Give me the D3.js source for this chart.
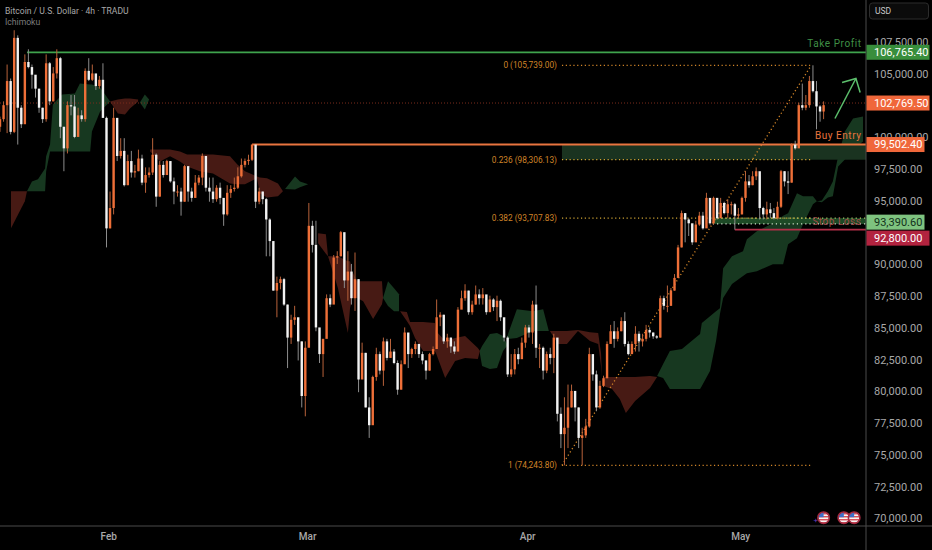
<!DOCTYPE html>
<html><head><meta charset="utf-8">
<script src="https://cdn.jsdelivr.net/npm/d3@7/dist/d3.min.js"></script>
<style>html,body{margin:0;background:#000;overflow:hidden}svg{display:block}text{font-family:Roboto,"Noto Sans",sans-serif}</style>
</head><body><svg id="c" width="932" height="550"></svg>
<script>
// Data: bars every 12h, prices in thousands of USD
const firstBar = "2025-01-16T18:00:00Z";
const closes = [101.5,102.6,104.5,100.5,107.9,102.4,101.1,106.0,105.6,105.0,103.9,102.4,101.5,105.9,102.9,105.1,106.3,100.9,99.2,102.6,102.5,100.1,101.8,101.5,105.3,104.6,105.1,104.1,104.6,101.6,92.9,94.5,101.6,98.6,99.0,96.3,98.2,97.3,97.4,98.4,96.5,97.1,97.3,98.7,95.4,97.9,97.1,98.2,96.6,95.8,95.8,95.0,97.8,95.8,95.3,96.5,96.9,98.6,96.1,95.8,95.2,96.1,95.3,94.0,95.7,96.0,96.1,97.0,97.9,98.2,98.3,99.5,
95.0,95.8,95.2,93.6,91.9,88.0,88.6,88.9,86.9,84.3,85.7,85.9,84.0,79.7,83.5,93.1,91.6,85.1,83.0,84.2,87.4,86.9,90.6,90.7,92.6,88.8,89.5,87.4,88.9,81.0,83.1,78.8,77.4,81.2,83.0,81.7,84.0,82.7,83.2,82.3,80.2,82.2,84.7,83.0,83.4,83.8,83.0,82.5,81.7,83.0,83.4,85.9,86.1,84.0,84.3,83.6,83.2,86.5,87.4,88.0,86.3,86.9,87.7,87.4,87.7,86.3,87.3,86.7,87.2,85.9,84.3,81.4,81.8,83.0,82.6,83.9,85.1,84.7,86.9,83.5,83.5,81.7,83.0,
82.7,84.3,78.3,76.7,77.2,78.8,80.1,78.8,76.4,76.6,77.3,83.0,81.4,78.8,80.5,81.1,83.8,84.8,84.2,84.8,85.6,83.8,83.0,83.8,84.6,84.0,84.2,84.9,84.7,84.4,84.3,87.4,86.8,86.8,88.0,89.0,91.4,94.1,93.6,93.3,91.8,93.2,93.9,92.9,95.3,93.3,95.3,93.7,94.9,94.1,94.8,94.8,93.9,94.0,95.3,
96.6,96.3,97.0,97.4,94.5,94.0,94.4,94.1,93.7,94.6,97.4,96.6,96.5,99.5,99.2,102.6,102.4,102.6,104.5,103.7,102.5,102.1,102.6];
const highs = [101.7,102.9,105.8,104.7,108.5,108.1,102.6,106.6,107.0,105.8,104.7,103.9,102.4,106.6,106.0,105.6,107.0,106.4,100.9,102.9,103.4,103.4,102.4,102.2,105.5,106.3,105.8,104.9,104.9,105.9,101.7,95.8,102.4,101.6,100.0,100.0,98.7,99.0,97.9,99.1,98.7,97.7,97.7,100.0,98.8,98.2,98.2,98.3,98.2,96.9,96.3,96.1,97.9,97.8,96.1,97.1,97.1,98.8,98.4,96.9,96.9,96.3,96.5,95.0,96.3,96.3,96.9,97.7,98.4,98.4,98.7,99.5,
99.2,96.1,95.8,95.3,93.7,91.9,89.1,89.1,89.0,86.9,86.1,86.8,84.8,84.0,84.0,94.9,93.5,93.5,84.3,84.2,87.7,87.7,90.8,91.1,92.7,91.4,91.1,90.1,91.0,88.9,83.9,83.1,79.6,81.3,83.5,83.2,84.3,84.2,84.2,83.4,82.5,82.5,85.1,84.0,83.5,84.0,83.8,83.2,82.5,83.1,83.6,87.3,86.3,86.1,84.6,84.3,84.0,86.7,88.0,88.5,88.0,87.2,88.4,88.1,88.2,87.4,87.6,87.4,87.6,87.3,85.6,84.4,83.0,83.4,83.5,84.3,85.3,85.3,87.2,88.4,83.8,83.6,83.2,
83.5,84.6,84.0,78.8,79.6,80.6,80.6,80.1,78.8,77.2,77.9,83.5,82.5,81.7,80.9,81.3,84.0,85.3,85.6,85.1,85.9,86.3,84.0,84.0,85.2,84.8,84.6,85.3,85.1,84.7,84.5,87.6,87.6,88.4,88.2,89.3,91.6,94.3,94.1,93.7,93.2,93.5,94.2,94.2,95.7,94.9,95.4,95.3,95.3,95.0,95.2,95.0,94.9,94.5,95.4,
97.4,97.1,97.4,97.7,97.0,94.6,95.0,94.9,94.5,95.0,97.5,97.4,97.4,99.6,99.8,102.8,104.3,103.4,104.9,105.74,104.5,102.6,102.9];
const lows = [100.5,101.3,100.4,100.3,100.4,99.5,100.8,102.4,105.5,103.9,103.2,102.0,101.2,101.3,102.6,102.9,104.7,100.0,97.4,98.8,101.8,100.0,100.1,101.3,101.3,104.5,104.5,103.8,103.9,101.6,91.4,92.9,94.0,98.2,98.4,96.2,96.3,96.9,96.9,97.4,96.3,95.7,96.9,97.1,94.6,95.4,96.9,97.1,96.5,94.8,95.4,93.9,95.0,95.0,95.0,95.3,96.3,96.3,95.8,95.0,94.9,95.0,94.8,93.1,93.9,95.3,95.8,96.0,96.9,97.7,97.9,98.2,
94.5,94.8,94.8,90.7,90.7,88.0,85.9,88.1,86.8,81.9,83.8,85.3,82.5,78.8,78.1,84.0,91.0,84.8,82.3,81.2,84.3,86.7,87.4,90.1,90.7,88.2,87.2,86.9,86.4,80.0,81.2,78.8,76.4,78.9,80.9,81.4,80.5,82.5,82.7,82.2,79.8,80.2,82.5,81.9,82.7,83.0,82.7,82.2,81.0,81.7,82.9,84.0,85.2,83.8,83.5,83.1,83.0,83.8,86.7,87.2,86.1,86.1,86.9,86.9,86.9,86.1,86.7,86.4,85.6,85.6,84.0,81.2,81.2,81.4,82.2,82.7,83.5,84.3,83.8,82.7,81.9,81.0,81.5,
82.2,81.5,77.7,75.6,74.24,75.6,78.8,77.7,75.6,74.24,76.4,77.2,80.9,78.5,78.7,80.4,81.1,84.0,83.5,84.0,84.8,83.6,82.9,83.0,83.2,83.2,83.6,84.0,84.3,84.2,84.2,84.3,86.5,86.3,86.8,88.0,89.0,91.4,91.8,92.3,91.6,92.4,93.1,92.8,93.2,93.2,93.2,93.6,94.0,94.0,93.7,94.0,92.8,93.7,94.0,
95.0,96.1,96.3,96.7,93.6,93.6,93.6,93.7,93.6,93.6,94.5,96.2,95.6,96.5,99.1,99.4,102.2,102.2,102.4,103.6,100.7,101.3,101.5];
// Ichimoku cloud: [bar, upper span, lower span]
const redCloud1 = [[3.1,95.82,92.91],[7,95.82,95.03],[7.6,95.82,95.82]];
const greenCloud1 = [[7.6,95.82,95.82],[9,96.6,95.82],[10.7,96.76,95.82],[12.7,97.62,95.82],[13,98.57,97.39],[14.1,99.51,98.96],[14.9,102.65,98.96],[17.5,103.44,98.96],[21.1,103.52,98.96],[22.5,104.3,98.96],[25.4,104.23,98.96],[25.9,104.23,100.53],[28.2,103.99,102.1],[31,102.89,102.89]];
const redCloud2 = [[31,102.89,102.89],[33.2,103.05,101.95],[35.2,103.13,101.87],[36.6,103.13,102.34],[38.9,103.05,102.89]];
const greenCloud2 = [[39.4,102.81,102.81],[40.8,103.44,102.26],[42,103.05,103.05]];
const redCloud3 = [[42.3,99.12,98.96],[45.1,99.12,98.17],[47.9,99.12,98.57],[50.7,98.96,98.17],[52.7,98.72,97.78],[56.3,98.72,97.39],[60,98.72,97.23],[64.8,98.57,96.44],[66.8,97.94,96.37],[69,97.39,96.37],[72.4,96.99,96.84],[73.2,96.91,95.66],[75.2,96.84,95.34],[78.3,96.44,95.42],[79.7,95.82,95.82]];
const greenCloud3 = [[80.3,96,96],[83.1,96.99,95.97],[84.5,96.6,96.13],[86.8,96.37,96.37]];
const redCloud4 = [[89.6,92.52,91.73],[91.8,92.44,90.9],[92.4,90.71,90.71],[95.2,90.71,88.19],[98,90.31,84.66],[98.6,90.31,86.62],[99.2,89.53,87.41],[100.6,88.74,87.41],[102.3,88.74,87.17],[105.1,88.74,85.76],[107.6,88.74,86.93],[107.9,87.41,87.41]];
const greenCloud4 = [[107.9,87.41,87.41],[109.3,88.74,86.78],[111,88.19,86.38],[112.4,87.72,86.38]];
const redCloud5 = [[112.7,86.38,86.38],[114.6,86.31,85.6],[115.5,85.52,85.21],[116.9,85.52,84.26],[119.2,85.52,83.24],[122.5,85.44,83.24],[122.8,84.81,83.08],[125.4,84.03,81.12],[128.2,84.26,82.45],[131,84.42,82.69],[134.6,83.48,82.61],[135.2,83.24,83.24]];
const greenCloud5 = [[135.2,83.3,83],[135.8,83.63,82.06],[138,84.58,81.82],[140,84.66,81.9],[141.7,84.42,83.24],[142.8,83.79,83.63]];
const greenCloud6 = [[142.8,84.34,84.18],[145.6,86.54,84.26],[150.1,86.38,84.81],[153,86.54,84.81],[154.6,84.81,84.81]];
const redCloud6 = [[154.9,84.81,84.81],[157.2,84.81,83.79],[159.7,84.81,83.79],[162.8,84.89,84.81],[166.2,84.73,84.03],[168.5,84.66,83.79],[169.3,83.08,82.06],[169.6,81.12,81.12]];
const redCloud7 = [[169.9,81.2,80.49],[172.4,81.2,80.25],[174.6,81.2,79.47],[176.3,81.2,78.37],[178.9,81.2,79.31],[183.1,81.28,80.33],[185.1,81.2,81.2]];
const greenCloud7 = [[185.1,81.27,81.27],[186.8,82.22,81.12],[188.7,83.24,80.25],[192.1,83.4,80.25],[197.2,84.58,80.25],[197.7,85.44,80.49],[200,85.99,81.67],[201.7,86.38,84.03],[202.8,86.62,86.15],[203.7,89.76,87.41],[206.2,90.71,88.51],[209.3,91.1,89.14],[210.4,92.04,89.37],[213.2,92.67,89.53],[217.7,93.3,90.08],[220.6,93.9,90.08],[222,94.09,91.65],[224.5,95.66,92.12],[226.2,95.42,93.22],[229,95.42,94.79],[230.1,95.03,95.03],[231.5,95.1,94.95],[233.2,95.82,95.34],[234.6,96.6,95.42],[236.1,98.57,97.78],[238,100.53,98.33],[240.3,101.55,99.12],[243.1,101.71,99.75]];
const redClouds = [redCloud1,redCloud2,redCloud3,redCloud4,redCloud5,redCloud6,redCloud7];
const greenClouds = [greenCloud1,greenCloud2,greenCloud3,greenCloud4,greenCloud5,greenCloud6,greenCloud7];
// Levels (the 92,500 and 102,500 ticks are fully hidden by price boxes in the reference)
const priceTicks = [70000,72500,75000,77500,80000,82500,85000,87500,90000,95000,97500,100000,105000,107500];
const monthTicks = ["2025-02-01","2025-03-01","2025-04-01","2025-05-01"];
const takeProfit = 106765.4, lastPrice = 102769.5, buyEntry = 99502.4, stopZone = 93390.6, stopLoss = 92800;
const fibPrices = [105739, 98306.13, 93707.83, 74243.8];
const fibRatios = ["0","0.236","0.382","1"];
const fibBars = [158.3, 228.5];
const tpStartBar = 7.6, entryStartBar = 71, slStartBar = 207, zone2StartBar = 200.8, zone2Low = 93250;
const arrowLine = [[235.2,101.55],[241.1,104.7]];
const arrowHead = [[237.2,104.38],[241.1,104.7],[242.3,103.6]];
const eventBars = [232, 237.7, 240.6], plusBar = 229.8;
const title = "Bitcoin / U.S. Dollar · 4h · TRADU", indicator = "Ichimoku", currency = "USD";

const W=932,H=550,PR=866,PB=526;
const t0 = new Date(firstBar).getTime(), barT = i=>new Date(t0+i*432e5);
const x = d3.scaleUtc().domain([barT(0), barT(866/3.55)]).range([0,866]);
const y = d3.scaleLinear().domain([70000,107500]).range([519.2,42.95]);
const X = i=>x(barT(i)), Y = k=>y(k*1000);
const svg = d3.select("#c");
svg.append("rect").attr("width",W).attr("height",H).attr("fill","#000");
svg.append("clipPath").attr("id","plot").append("rect").attr("width",PR).attr("height",PB);
const g = svg.append("g").attr("clip-path","url(#plot)");

// clouds
const area = d3.area().x(d=>X(d[0])).y0(d=>Y(d[2])).y1(d=>Y(d[1])).curve(d3.curveLinear);
g.selectAll("path.r").data(redClouds).join("path").attr("class","r").attr("d",area).attr("fill","#471a14");
g.selectAll("path.g").data(greenClouds).join("path").attr("class","g").attr("d",area).attr("fill","#173820");

// zones
g.append("rect").attr("x",X(fibBars[0])).attr("y",y(buyEntry)).attr("width",PR-X(fibBars[0])).attr("height",y(fibPrices[1])-y(buyEntry)).attr("fill","#1a3320");
g.append("rect").attr("x",X(zone2StartBar)).attr("y",y(fibPrices[2])).attr("width",PR-X(zone2StartBar)).attr("height",y(zone2Low)-y(fibPrices[2])).attr("fill","#1d4a26");

// last price dotted
g.append("line").attr("x1",0).attr("x2",PR).attr("y1",y(lastPrice)).attr("y2",y(lastPrice)).attr("stroke","#7a2c1c").attr("stroke-width",1).attr("stroke-dasharray","1 2");

// fib
fibPrices.forEach((p,i)=>{
  g.append("line").attr("x1",X(fibBars[0])).attr("x2",X(fibBars[1])).attr("y1",y(p)).attr("y2",y(p)).attr("stroke",i==1||i==2?"#d0a535":"#d08428").attr("stroke-width",1.3).attr("stroke-dasharray","1.2 2.6");
  g.append("text").attr("x",X(fibBars[0])-5).attr("y",y(p)).attr("dy","0.35em").attr("text-anchor","end").attr("font-size",8.3).attr("fill","#d08428")
   .text(`${fibRatios[i]} (${d3.format(",.2f")(p)})`);
});
g.append("line").attr("x1",X(fibBars[0])).attr("x2",X(fibBars[1])).attr("y1",y(fibPrices[3])).attr("y2",y(fibPrices[0])).attr("stroke","#d08428").attr("stroke-width",1.3).attr("stroke-dasharray","1.2 2.6");
g.append("line").attr("x1",X(zone2StartBar)).attr("x2",PR).attr("y1",y(zone2Low)).attr("y2",y(zone2Low)).attr("stroke","#d5e5d0").attr("stroke-width",1.2).attr("stroke-dasharray","1.2 3");
g.append("line").attr("x1",X(zone2StartBar)).attr("x2",PR).attr("y1",y(fibPrices[2])).attr("y2",y(fibPrices[2])).attr("stroke","#b5c76a").attr("stroke-width",1.1).attr("stroke-dasharray","1.2 3");

// level lines
[[tpStartBar,takeProfit,"#3fa34d"],[entryStartBar,buyEntry,"#e8743f"],[slStartBar,stopLoss,"#b32f48"]].forEach(([b,p,c])=>{
  g.append("line").attr("x1",X(b)).attr("x2",PR).attr("y1",y(p)).attr("y2",y(p)).attr("stroke",c).attr("stroke-width",1.8);
});

// candles
const bars = closes.map((c,i)=>({i,o:i?closes[i-1]:100.9,c,h:highs[i],l:lows[i]}));
const cg = g.append("g");
cg.selectAll("line").data(bars).join("line").attr("x1",d=>X(d.i)).attr("x2",d=>X(d.i)).attr("y1",d=>Y(d.h)).attr("y2",d=>Y(d.l))
  .attr("stroke",d=>d.c>=d.o?"#b8623a":"#8c8c8c").attr("stroke-width",1);
cg.selectAll("rect").data(bars).join("rect").attr("x",d=>X(d.i)-1.2).attr("width",2.4)
  .attr("y",d=>Y(Math.max(d.o,d.c))).attr("height",d=>Math.max(1,Math.abs(Y(d.o)-Y(d.c))))
  .attr("fill",d=>d.c>=d.o?"#ee6f38":"#f2f2f2");

// arrow
const ln = d3.line().x(d=>X(d[0])).y(d=>Y(d[1]));
[arrowLine,arrowHead].forEach(a=>g.append("path").attr("d",ln(a)).attr("fill","none").attr("stroke","#5cbf6c").attr("stroke-width",1.5));

// notes
[["Take Profit",takeProfit,-9,"#3f8f46"],["Buy Entry",buyEntry,-9,"#e8743f"],["Stop Loss",stopZone,-1,"#a04a48"]].forEach(([s,p,d,c])=>{
  g.append("text").attr("x",861.5).attr("y",y(p)+d).attr("dy","0.35em").attr("text-anchor","end").attr("font-size",10).attr("letter-spacing",.55).attr("fill",c).text(s);
});

// event flags
const fl = svg.append("g");
eventBars.forEach((b,i)=>{
  const cx=X(b), cy=517.7, id="fc"+i;
  fl.append("clipPath").attr("id",id).append("circle").attr("cx",cx).attr("cy",cy).attr("r",5.2);
  const f=fl.append("g").attr("clip-path",`url(#${id})`);
  f.append("rect").attr("x",cx-6).attr("y",cy-6).attr("width",12).attr("height",12).attr("fill","#f4f4f4");
  [-4,-1,2,5].forEach(o=>f.append("rect").attr("x",cx-6).attr("y",cy+o-.6).attr("width",12).attr("height",1.3).attr("fill","#d8404a"));
  f.append("rect").attr("x",cx-6).attr("y",cy-6).attr("width",6).attr("height",5.5).attr("fill","#3f6fc8");
  fl.append("circle").attr("cx",cx).attr("cy",cy).attr("r",5.8).attr("fill","none").attr("stroke","#a52a40").attr("stroke-width",1.5);
});
fl.insert("text",":first-child").attr("x",X(plusBar)).attr("y",520).attr("dy","0.35em").attr("text-anchor","middle").attr("font-size",8).attr("fill","#6a3fc0").text("+");

// frame
svg.append("line").attr("x1",PR).attr("x2",PR).attr("y1",0).attr("y2",H).attr("stroke","#4a4a4a").attr("stroke-width",1);
svg.append("line").attr("x1",0).attr("x2",W).attr("y1",PB).attr("y2",PB).attr("stroke","#4a4a4a").attr("stroke-width",1);

// axes
const ya = svg.append("g").attr("transform",`translate(${PR},-0.8)`).call(d3.axisRight(y).tickValues(priceTicks).tickFormat(d3.format(",.2f")).tickSize(0).tickPadding(8));
const xa = svg.append("g").attr("transform",`translate(0,${PB})`).call(d3.axisBottom(x).tickValues(monthTicks.map(d=>new Date(d+"T00:00:00Z"))).tickFormat(d3.utcFormat("%b")).tickSize(0).tickPadding(7));
[ya,xa].forEach(a=>{a.select(".domain").remove();a.selectAll("text").attr("fill","#a8a8a8").attr("font-size",11).attr("font-family","Roboto,sans-serif");});
xa.selectAll("text").attr("font-size",10).attr("font-weight",500);

// price boxes
[[takeProfit,"#388e3c","#fff",63,0],[lastPrice,"#f0673a","#fff",63,0],[buyEntry,"#f0673a","#fff",58,0],[stopZone,"#7ec37f","#12301a",58,0],[stopLoss,"#b2233f","#fff",63,8.5]].forEach(([p,f,tc,w,dy])=>{
  const cy=y(p)+dy;
  svg.append("rect").attr("x",PR+.5).attr("y",cy-7.5).attr("width",w).attr("height",15).attr("fill",f);
  svg.append("text").attr("x",874).attr("y",cy).attr("dy","0.36em").attr("font-size",11).attr("fill",tc).text(d3.format(",.2f")(p));
});

// currency button
svg.append("rect").attr("x",869.5).attr("y",3).attr("width",59).attr("height",16).attr("rx",3).attr("fill","#0b0b0b").attr("stroke","#2c2c2c");
svg.append("text").attr("x",875).attr("y",11).attr("dy","0.35em").attr("font-size",8.5).attr("fill","#c8c8c8").text(currency);

// titles
svg.append("text").attr("x",5).attr("y",11).attr("dy","0.35em").attr("font-size",8.6).attr("fill","#a8a8a8").text(title);
svg.append("text").attr("x",5).attr("y",22).attr("dy","0.35em").attr("font-size",8.6).attr("fill","#7c7c7c").text(indicator);
</script></body></html>
